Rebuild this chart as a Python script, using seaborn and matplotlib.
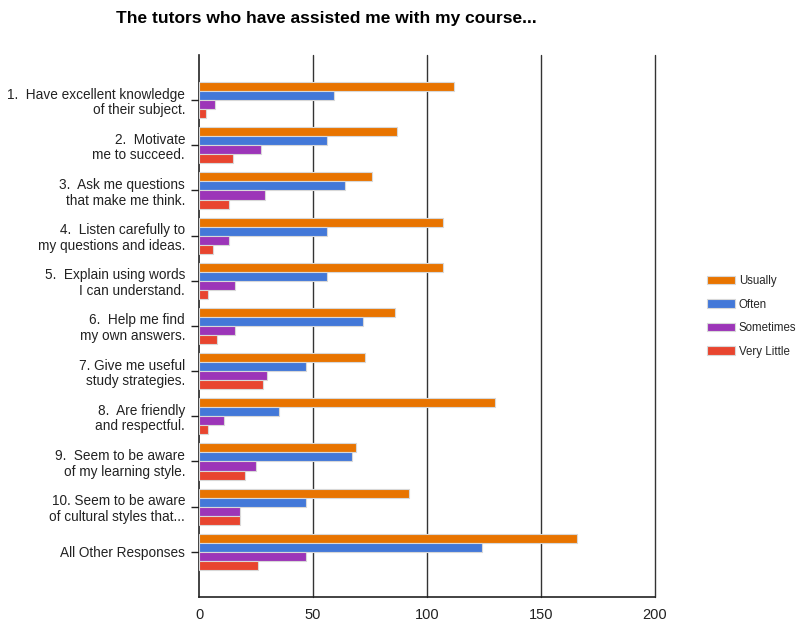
import matplotlib
matplotlib.use("Agg")
import matplotlib.pyplot as plt
import seaborn as sns
import pandas as pd

categories = [
    "1.  Have excellent knowledge\nof their subject.",
    "2.  Motivate\nme to succeed.",
    "3.  Ask me questions\nthat make me think.",
    "4.  Listen carefully to\nmy questions and ideas.",
    "5.  Explain using words\nI can understand.",
    "6.  Help me find\nmy own answers.",
    "7. Give me useful\nstudy strategies.",
    "8.  Are friendly\nand respectful.",
    "9.  Seem to be aware\nof my learning style.",
    "10. Seem to be aware\nof cultural styles that...",
    "All Other Responses",
]
series_names = ["Usually", "Often", "Sometimes", "Very Little"]
usually = [112, 87, 76, 107, 107, 86, 73, 130, 69, 92, 166]
often = [59, 56, 64, 56, 56, 72, 47, 35, 67, 47, 124]
sometimes = [7, 27, 29, 13, 16, 16, 30, 11, 25, 18, 47]
very_little = [3, 15, 13, 6, 4, 8, 28, 4, 20, 18, 26]
x_ticks = [0, 50, 100, 150, 200]
title = "The tutors who have assisted me with my course..."

colors = ["#E87400", "#4378D8", "#9C35B8", "#E8452F"]

rows = []
for name, vals in zip(series_names, [usually, often, sometimes, very_little]):
    for c, v in zip(categories, vals):
        rows.append({"category": c, "series": name, "value": v})
df = pd.DataFrame(rows)

sns.set_style("white")
plt.rcParams["font.family"] = ["Liberation Sans", "DejaVu Sans"]

fig = plt.figure(figsize=(8, 6.23), dpi=100)
ax = fig.add_axes([199 / 800, 1 - 597 / 623, 456 / 800, 542 / 623])

sns.barplot(data=df, y="category", x="value", hue="series", orient="h",
            palette=colors, order=categories, hue_order=series_names,
            width=0.8, saturation=1, edgecolor="#d8d8d8", linewidth=0.8,
            ax=ax, zorder=3)

ax.set_xlim(0, 200)
ax.set_ylim(11, -1)
ax.set_xticks(x_ticks)
ax.set_xticklabels([str(t) for t in x_ticks], fontsize=10.5, color="#222222")
ax.tick_params(axis="x", length=0, pad=8)
ax.tick_params(axis="y", length=6, width=1, color="#222222", pad=4,
               labelsize=9.8, labelcolor="#222222", left=True)
for lab in ax.get_yticklabels():
    lab.set_horizontalalignment("right")
    lab.set_multialignment("right")
    lab.set_linespacing(1.15)
ax.set_xlabel("")
ax.set_ylabel("")

for t in x_ticks[1:]:
    ax.axvline(t, color="#333333", lw=1, zorder=1, clip_on=False)

for s in ["top", "right"]:
    ax.spines[s].set_visible(False)
ax.spines["left"].set_color("#222222")
ax.spines["bottom"].set_color("#222222")
ax.spines["left"].set_linewidth(1.2)
ax.spines["bottom"].set_linewidth(1.2)

leg = ax.legend(title=None, loc="upper left", bbox_to_anchor=(707 / 800, 1 - 275 / 623),
                bbox_transform=fig.transFigure, frameon=False, fontsize=8.3,
                handlelength=2.4, handleheight=0.72, labelspacing=1.0,
                handletextpad=0.35, borderaxespad=0, borderpad=0)

fig.text(116 / 800, 1 - 18 / 623, title, ha="left", va="center",
         fontsize=12.5, fontweight="bold", color="#000000")

fig.savefig("out.png", dpi=100)
